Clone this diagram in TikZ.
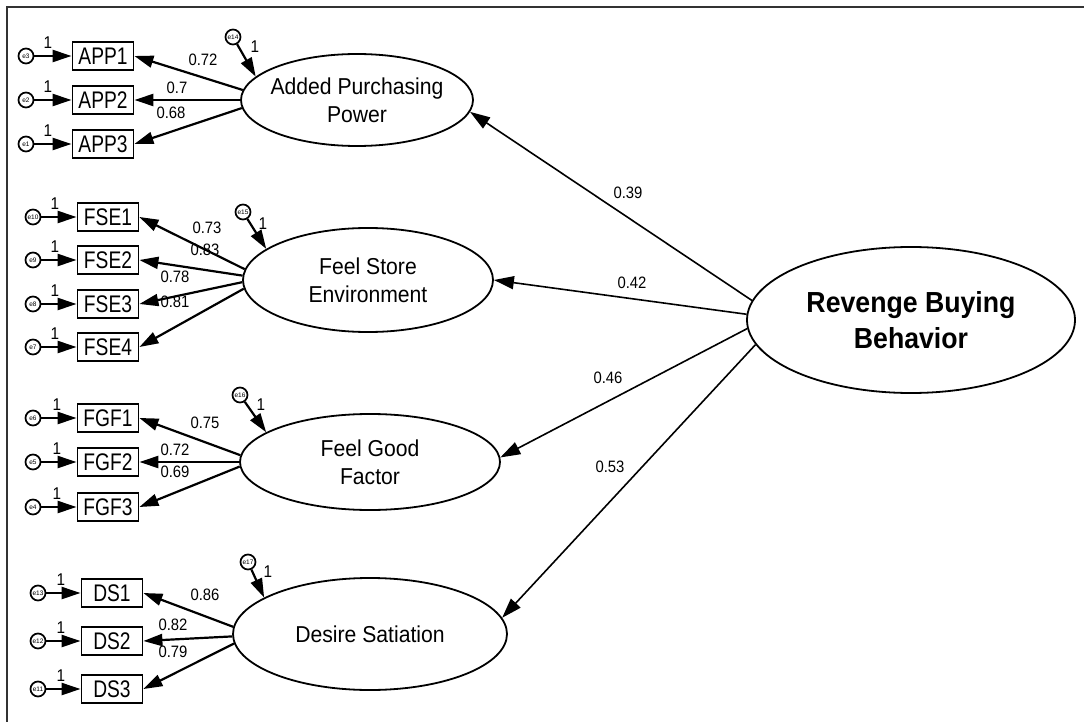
\documentclass[tikz,border=0pt]{standalone}
\usepackage{fontspec}
\setmainfont{Liberation Sans}
\newfontfamily\boxfont[FakeStretch=0.8]{Liberation Sans}
\newfontfamily\numfont[FakeStretch=0.9]{Liberation Sans}
\newfontfamily\bigfont[FakeStretch=0.92]{Liberation Sans}
\usetikzlibrary{arrows.meta,shapes.geometric}
\begin{document}
\begin{tikzpicture}[x=1pt,y=-1pt,
  obs/.style={draw, line width=1.8pt, minimum width=61pt, minimum height=28pt, inner sep=0pt, font=\boxfont\fontsize{24}{26}\selectfont},
  lat/.style={draw, ellipse, line width=1.8pt, inner sep=0pt},
  lattext/.style={align=center, inner sep=0pt, font=\bigfont\fontsize{23}{28}\selectfont},
  err/.style={draw, circle, line width=1.7pt, minimum size=15pt, inner sep=0pt, font=\fontsize{6.5}{6.5}\selectfont},
  arr/.style={line width=2.2pt, -{Triangle[length=19pt,width=12pt]}},
  rarr/.style={line width=1.6pt, -{Triangle[length=20pt,width=13pt]}},
  lbl/.style={font=\numfont\fontsize{16.5}{16.5}\selectfont, inner sep=0pt},
  one/.style={font=\numfont\fontsize{17}{17}\selectfont, inner sep=0pt}]
\useasboundingbox (0,0) rectangle (1084,722);
\draw[line width=2pt, black!80] (7,722) -- (7,7) -- (1084,7);

% ---------- Added Purchasing Power ----------
\node[lat, minimum width=232pt, minimum height=92pt] (app) at (357,100) {};
\node[lattext] (appt) at (app.center) {Added Purchasing\\Power};
\node[obs] (app1) at (103,56) {APP1};
\node[obs] (app2) at (103,100) {APP2};
\node[obs] (app3) at (103,144) {APP3};
\node[err] (e3) at (26,56) {e3};
\node[err] (e2) at (26,100) {e2};
\node[err] (e1) at (26,144) {e1};
\node[err] (e14) at (233,37) {e14};
\draw[arr] (e3) -- (app1);
\draw[arr] (e2) -- (app2);
\draw[arr] (e1) -- (app3);
\draw[arr] (e14) -- (app.167);
\draw[arr] (app.175) -- (app1.east);
\draw[arr] (app.180) -- (app2.east);
\draw[arr] (app.184) -- (app3.east);
\node[one] (o3) at (48,43) {1};
\node[one] (o2) at (48,87) {1};
\node[one] (o1) at (48,131) {1};
\node[one] (o14) at (255,47) {1};
\node[lbl] (l1) at (203,60) {0.72};
\node[lbl] (l2) at (177,88) {0.7};
\node[lbl] (l3) at (171,113) {0.68};

% ---------- Feel Store Environment ----------
\node[lat, minimum width=250pt, minimum height=104pt] (fse) at (368,280) {};
\node[lattext] (fset) at (fse.center) {Feel Store\\Environment};
\node[obs] (fse1) at (108,217) {FSE1};
\node[obs] (fse2) at (108,260) {FSE2};
\node[obs] (fse3) at (108,304) {FSE3};
\node[obs] (fse4) at (108,347) {FSE4};
\node[err] (e10) at (33,217) {e10};
\node[err] (e9) at (33,260) {e9};
\node[err] (e8) at (33,304) {e8};
\node[err] (e7) at (33,347) {e7};
\node[err] (e15) at (243,212) {e15};
\draw[arr] (e10) -- (fse1);
\draw[arr] (e9) -- (fse2);
\draw[arr] (e8) -- (fse3);
\draw[arr] (e7) -- (fse4);
\draw[arr] (e15) -- (fse.163);
\draw[arr] (fse.175) -- (fse1.east);
\draw[arr] (fse.178.5) -- (fse2.east);
\draw[arr] (fse.181.5) -- (fse3.east);
\draw[arr] (fse.184) -- (fse4.east);
\node[one] (o10) at (55,204) {1};
\node[one] (o9) at (55,247) {1};
\node[one] (o8) at (55,291) {1};
\node[one] (o7) at (55,334) {1};
\node[one] (o15) at (263,224) {1};
\node[lbl] (l4) at (207,228) {0.73};
\node[lbl] (l5) at (205,250) {0.83};
\node[lbl] (l6) at (175,277) {0.78};
\node[lbl] (l7) at (175,302) {0.81};

% ---------- Feel Good Factor ----------
\node[lat, minimum width=260pt, minimum height=96pt] (fgf) at (370,462) {};
\node[lattext] (fgft) at (fgf.center) {Feel Good\\Factor};
\node[obs] (fgf1) at (108,418) {FGF1};
\node[obs] (fgf2) at (108,462) {FGF2};
\node[obs] (fgf3) at (108,507) {FGF3};
\node[err] (e6) at (33,418) {e6};
\node[err] (e5) at (33,462) {e5};
\node[err] (e4) at (33,507) {e4};
\node[err] (e16) at (240,395) {e16};
\draw[arr] (e6) -- (fgf1);
\draw[arr] (e5) -- (fgf2);
\draw[arr] (e4) -- (fgf3);
\draw[arr] (e16) -- (fgf.164);
\draw[arr] (fgf.177.5) -- (fgf1.east);
\draw[arr] (fgf.180) -- (fgf2.east);
\draw[arr] (fgf.182.5) -- (fgf3.east);
\node[one] (o6) at (57,405) {1};
\node[one] (o5) at (57,449) {1};
\node[one] (o4) at (57,494) {1};
\node[one] (o16) at (261,405) {1};
\node[lbl] (l8) at (205,423) {0.75};
\node[lbl] (l9) at (175,450) {0.72};
\node[lbl] (l10) at (175,472) {0.69};

% ---------- Desire Satiation ----------
\node[lat, minimum width=274pt, minimum height=112pt] (ds) at (370,634) {};
\node[lattext] (dst) at (ds.center) {Desire Satiation};
\node[obs] (ds1) at (112,593) {DS1};
\node[obs] (ds2) at (112,641) {DS2};
\node[obs] (ds3) at (112,689) {DS3};
\node[err] (e13) at (38,593) {e13};
\node[err] (e12) at (38,641) {e12};
\node[err] (e11) at (38,689) {e11};
\node[err] (e17) at (248,562) {e17};
\draw[arr] (e13) -- (ds1);
\draw[arr] (e12) -- (ds2);
\draw[arr] (e11) -- (ds3);
\draw[arr] (e17) -- (ds.161);
\draw[arr] (ds.177.5) -- (ds1.east);
\draw[arr] (ds.181) -- (ds2.east);
\draw[arr] (ds.184) -- (ds3.east);
\node[one] (o13) at (61,580) {1};
\node[one] (o12) at (61,628) {1};
\node[one] (o11) at (61,676) {1};
\node[one] (o17) at (268,572) {1};
\node[lbl] (l11) at (205,595) {0.86};
\node[lbl] (l12) at (173,625) {0.82};
\node[lbl] (l13) at (173,652) {0.79};

% ---------- Revenge Buying Behavior ----------
\node[lat, minimum width=328pt, minimum height=146pt] (rbb) at (911,320) {};
\node[lattext, font=\bigfont\fontsize{29}{36}\selectfont\bfseries] (rbbt) at (rbb.center) {Revenge Buying\\Behavior};
\draw[rarr] (rbb.173.7) -- (app.354);
\draw[rarr] (rbb.178) -- (fse.east);
\draw[rarr] (rbb.183.5) -- (fgf.2);
\draw[rarr] (rbb.189) -- (ds.7);
\node[lbl] (l14) at (628,193) {0.39};
\node[lbl] (l15) at (632,283) {0.42};
\node[lbl] (l16) at (608,378) {0.46};
\node[lbl] (l17) at (610,467) {0.53};
\end{tikzpicture}
\end{document}
